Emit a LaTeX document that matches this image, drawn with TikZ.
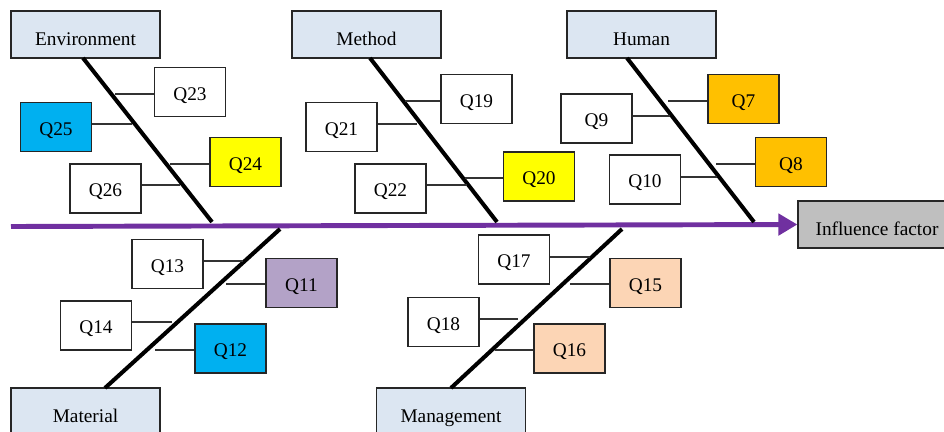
\documentclass[tikz,border=0pt]{standalone}
\usepackage{fontspec}
\setmainfont{Liberation Serif}
\usepackage{tikz}
\usetikzlibrary{arrows.meta}
\usepackage{xcolor}

\definecolor{catblue}{HTML}{DCE6F2}
\definecolor{infgray}{HTML}{BFBFBF}
\definecolor{qcyan}{HTML}{00B0F0}
\definecolor{qyellow}{HTML}{FFFF00}
\definecolor{qorange}{HTML}{FFC000}
\definecolor{qlilac}{HTML}{B3A2C7}
\definecolor{qpeach}{HTML}{FCD5B5}
\definecolor{spinepurple}{HTML}{7030A0}

\tikzset{
  catbox/.style={draw=black!85, line width=0.7pt, fill=catblue, minimum width=2.98cm, minimum height=0.94cm, inner sep=0pt, text height=12.4pt, text depth=0pt, font=\fontsize{11}{13}\selectfont},
  qbox/.style={draw=black!85, line width=0.7pt, fill=white, minimum width=1.42cm, minimum height=0.98cm, inner sep=0pt, text height=9.5pt, text depth=0pt, font=\fontsize{11}{13}\selectfont},
  bone/.style={black, line width=2.3pt},
  twig/.style={black!80, line width=0.6pt},
  spine/.style={spinepurple, line width=2.8pt, -{Triangle[length=0.38cm,width=0.42cm]}}
}

\begin{document}
\begin{tikzpicture}[x=0.02cm, y=-0.02cm]
\useasboundingbox (0,0) rectangle (944,432);
\clip (0,0) rectangle (944,432);

% head and spine
\node[catbox, fill=infgray, minimum width=3.16cm] (inf) at (877,224.5) {Influence factor};
\coordinate (tail) at (11,226.5);
\draw[spine] (tail) -- (inf.west);

% category boxes
\node[catbox] (env)  at (85.5,34.5)  {Environment};
\node[catbox] (meth) at (366.5,34.5) {Method};
\node[catbox] (hum)  at (641.5,34.5) {Human};
\node[catbox] (mat)  at (85.5,411.5) {Material};
\node[catbox] (mgmt) at (451,411.5)  {Management};

% bones
\coordinate (envtop) at (83,58);    \coordinate (envend) at (212,222);
\coordinate (methtop) at (370,58);  \coordinate (methend) at (497,222);
\coordinate (humtop) at (627,58);   \coordinate (humend) at (754,222);
\coordinate (matbot) at (105,388);  \coordinate (matend) at (280,229);
\coordinate (mgmtbot) at (451,388); \coordinate (mgmtend) at (622,229);

\draw[bone] (envtop) -- (envend);
\draw[bone] (methtop) -- (methend);
\draw[bone] (humtop) -- (humend);
\draw[bone] (matbot) -- (matend);
\draw[bone] (mgmtbot) -- (mgmtend);

% Environment
\node[qbox] (q23) at (190,92) {Q23};
\node[qbox, fill=qcyan] (q25) at (56,127) {Q25};
\node[qbox, fill=qyellow] (q24) at (245.5,162) {Q24};
\node[qbox] (q26) at (105.5,188.5) {Q26};

% Method
\node[qbox] (q19) at (476.5,99) {Q19};
\node[qbox] (q21) at (341.5,127) {Q21};
\node[qbox, fill=qyellow] (q20) at (539,176.5) {Q20};
\node[qbox] (q22) at (390.5,188.5) {Q22};

% Human
\node[qbox, fill=qorange] (q7) at (743.5,99) {Q7};
\node[qbox] (q9) at (596.5,118.5) {Q9};
\node[qbox, fill=qorange] (q8) at (791,162) {Q8};
\node[qbox] (q10) at (645,179.5) {Q10};

% Material
\node[qbox] (q13) at (167.5,264) {Q13};
\node[qbox, fill=qlilac] (q11) at (301.5,283) {Q11};
\node[qbox] (q14) at (96,325.5) {Q14};
\node[qbox, fill=qcyan] (q12) at (230.5,348.5) {Q12};

% Management
\node[qbox] (q17) at (514,259.5) {Q17};
\node[qbox, fill=qpeach] (q15) at (645.5,283) {Q15};
\node[qbox] (q18) at (443.5,322) {Q18};
\node[qbox, fill=qpeach] (q16) at (569.5,348.5) {Q16};

% twigs
{
\coordinate (t23) at (115,94);  \draw[twig] (t23) -- (t23 -| q23.west);
\coordinate (t25) at (132,124); \draw[twig] (t25) -- (t25 -| q25.east);
\coordinate (t24) at (170,164); \draw[twig] (t24) -- (t24 -| q24.west);
\coordinate (t26) at (180,185); \draw[twig] (t26) -- (t26 -| q26.east);

\coordinate (t19) at (405,101); \draw[twig] (t19) -- (t19 -| q19.west);
\coordinate (t21) at (417,124); \draw[twig] (t21) -- (t21 -| q21.east);
\coordinate (t20) at (465,178); \draw[twig] (t20) -- (t20 -| q20.west);
\coordinate (t22) at (467,185); \draw[twig] (t22) -- (t22 -| q22.east);

\coordinate (t7) at (668,101);  \draw[twig] (t7) -- (t7 -| q7.west);
\coordinate (t9) at (670,116);  \draw[twig] (t9) -- (t9 -| q9.east);
\coordinate (t8) at (716,164);  \draw[twig] (t8) -- (t8 -| q8.west);
\coordinate (t10) at (717,177); \draw[twig] (t10) -- (t10 -| q10.east);

\coordinate (t13) at (243,261); \draw[twig] (t13) -- (t13 -| q13.east);
\coordinate (t11) at (226,284); \draw[twig] (t11) -- (t11 -| q11.west);
\coordinate (t14) at (172,322); \draw[twig] (t14) -- (t14 -| q14.east);
\coordinate (t12) at (155,350); \draw[twig] (t12) -- (t12 -| q12.west);

\coordinate (t17) at (590,257); \draw[twig] (t17) -- (t17 -| q17.east);
\coordinate (t15) at (570,284); \draw[twig] (t15) -- (t15 -| q15.west);
\coordinate (t18) at (518,319); \draw[twig] (t18) -- (t18 -| q18.east);
\coordinate (t16) at (495,350); \draw[twig] (t16) -- (t16 -| q16.west);
}

\end{tikzpicture}
\end{document}
